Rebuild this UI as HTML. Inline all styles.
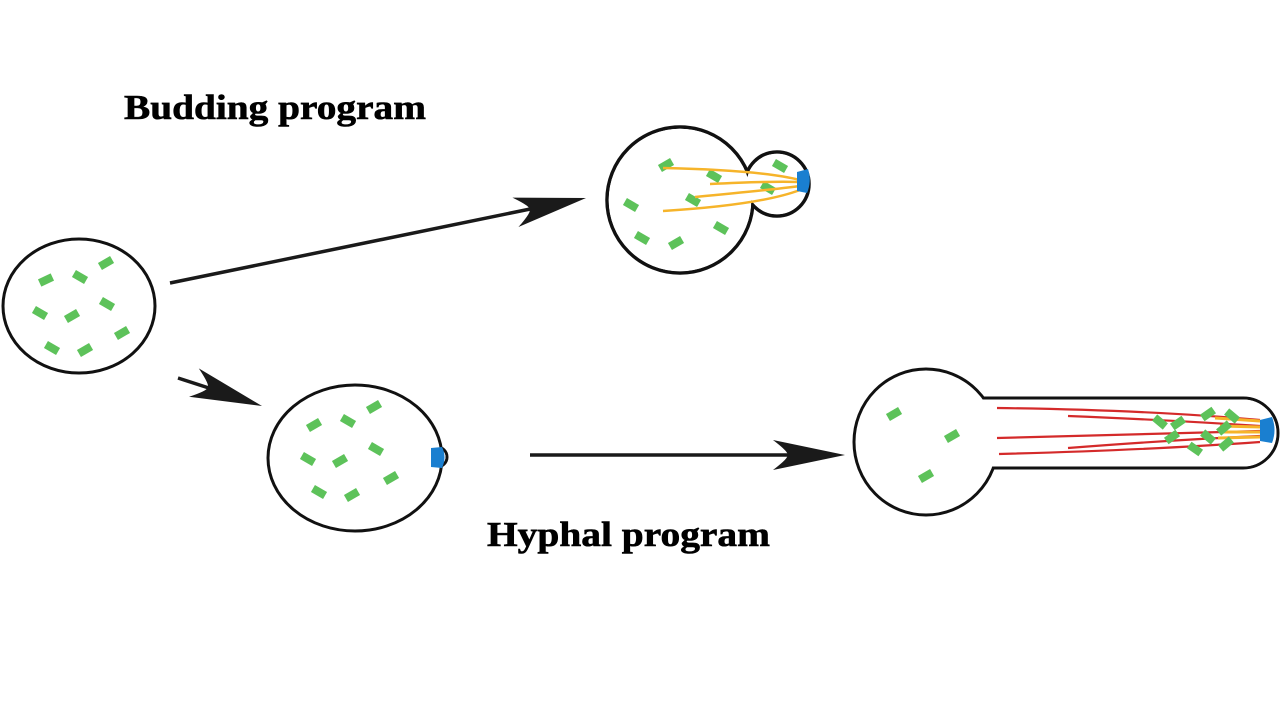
<!DOCTYPE html>
<html><head><meta charset="utf-8"><style>
html,body{margin:0;padding:0;background:#fff;}
svg{display:block}
</style></head><body>
<svg width="1280" height="705" viewBox="0 0 1280 705" xmlns="http://www.w3.org/2000/svg">
<defs>
<path id="ah" d="M0,0 L-72,-15 Q-55,-2 -58,0 Q-55,2 -72,15 Z" fill="#1a1a1a"/>
<rect id="g" x="-7" y="-4" width="14" height="8" fill="#5dc25a"/>
</defs>
<rect width="1280" height="705" fill="#fff"/>

<text x="124" y="119" font-family="Liberation Serif, serif" font-weight="bold" font-size="35" textLength="302" lengthAdjust="spacingAndGlyphs" stroke="#000" stroke-width="0.6">Budding program</text>
<text x="487" y="546" font-family="Liberation Serif, serif" font-weight="bold" font-size="35" textLength="283" lengthAdjust="spacingAndGlyphs" stroke="#000" stroke-width="0.6">Hyphal program</text>

<!-- arrows -->
<line x1="170" y1="283" x2="540" y2="207" stroke="#1a1a1a" stroke-width="3.5"/>
<use href="#ah" transform="translate(586,198) rotate(-11.5)"/>
<line x1="178" y1="378" x2="215" y2="390" stroke="#1a1a1a" stroke-width="3.5"/>
<use href="#ah" transform="translate(262,406) rotate(19)"/>
<line x1="530" y1="455" x2="800" y2="455" stroke="#1a1a1a" stroke-width="3.5"/>
<use href="#ah" transform="translate(845,455)"/>

<!-- left cell -->
<ellipse cx="79" cy="306" rx="76" ry="67" fill="#fff" stroke="#111" stroke-width="3"/>
<use href="#g" transform="translate(46,280) rotate(-25)"/>
<use href="#g" transform="translate(80,277) rotate(30)"/>
<use href="#g" transform="translate(106,263) rotate(-30)"/>
<use href="#g" transform="translate(40,313) rotate(30)"/>
<use href="#g" transform="translate(72,316) rotate(-30)"/>
<use href="#g" transform="translate(107,304) rotate(30)"/>
<use href="#g" transform="translate(52,348) rotate(30)"/>
<use href="#g" transform="translate(85,350) rotate(-30)"/>
<use href="#g" transform="translate(122,333) rotate(-30)"/>

<!-- middle cell -->
<circle cx="437" cy="457" r="10" fill="#fff" stroke="#111" stroke-width="3"/>
<ellipse cx="355" cy="458" rx="87" ry="73" fill="#fff" stroke="#111" stroke-width="3"/>
<circle cx="437" cy="457" r="8.5" fill="#fff"/>
<path d="M431,448 L442,447 Q447,457 442,468 L431,467 Z" fill="#1a7fd0"/>
<use href="#g" transform="translate(314,425) rotate(-30)"/>
<use href="#g" transform="translate(348,421) rotate(30)"/>
<use href="#g" transform="translate(374,407) rotate(-30)"/>
<use href="#g" transform="translate(308,459) rotate(30)"/>
<use href="#g" transform="translate(340,461) rotate(-30)"/>
<use href="#g" transform="translate(376,449) rotate(30)"/>
<use href="#g" transform="translate(319,492) rotate(30)"/>
<use href="#g" transform="translate(352,495) rotate(-30)"/>
<use href="#g" transform="translate(391,478) rotate(-30)"/>

<!-- budding cell -->
<circle cx="680" cy="200" r="73" fill="#fff" stroke="#111" stroke-width="3.5"/>
<circle cx="777" cy="184" r="32" fill="#fff" stroke="#111" stroke-width="3.5"/>
<circle cx="680" cy="200" r="71.3" fill="#fff"/>
<circle cx="777" cy="184" r="30.3" fill="#fff"/>
<use href="#g" transform="translate(666,165) rotate(-30)"/>
<use href="#g" transform="translate(714,176) rotate(30)"/>
<use href="#g" transform="translate(780,166) rotate(30)"/>
<use href="#g" transform="translate(631,205) rotate(30)"/>
<use href="#g" transform="translate(693,200) rotate(30)"/>
<use href="#g" transform="translate(768,188) rotate(30)"/>
<use href="#g" transform="translate(642,238) rotate(30)"/>
<use href="#g" transform="translate(676,243) rotate(-30)"/>
<use href="#g" transform="translate(721,228) rotate(30)"/>
<g stroke="#f6b42a" stroke-width="2.5" fill="none">
<path d="M663,168 Q760,170 800,180"/>
<path d="M710,184 Q770,181 800,182"/>
<path d="M695,197 Q770,190 800,186"/>
<path d="M663,211 Q760,205 800,190"/>
</g>
<path d="M797,172 L808,169 Q812,181 807,193 L797,191 Z" fill="#1a7fd0"/>

<!-- hyphal cell -->
<path d="M960,398 L1243,398 A35,35 0 0 1 1243,468 L960,468 Z" fill="#fff" stroke="#111" stroke-width="3"/>
<ellipse cx="926" cy="442" rx="72" ry="73" fill="#fff" stroke="#111" stroke-width="3"/>
<path d="M955,399.5 L1243,399.5 A33.5,33.5 0 0 1 1243,466.5 L955,466.5 Z" fill="#fff"/>
<use href="#g" transform="translate(894,414) rotate(-30)"/>
<use href="#g" transform="translate(952,436) rotate(-30)"/>
<use href="#g" transform="translate(926,476) rotate(-30)"/>
<g stroke="#d42a2a" stroke-width="2.2" fill="none">
<path d="M997,408 Q1150,410 1260,420"/>
<path d="M1068,416 Q1170,420 1260,426"/>
<path d="M997,438 Q1150,434 1260,431"/>
<path d="M1068,448 Q1170,440 1260,436"/>
<path d="M999,454 Q1150,450 1260,442"/>
</g>
<g stroke="#f6b42a" stroke-width="3" fill="none">
<path d="M1215,418 L1260,421"/>
<path d="M1220,426 L1260,427"/>
<path d="M1222,432 L1260,432"/>
<path d="M1218,438 L1260,437"/>
</g>
<use href="#g" transform="translate(1160,422) rotate(40)"/>
<use href="#g" transform="translate(1178,423) rotate(-35)"/>
<use href="#g" transform="translate(1172,437) rotate(-35)"/>
<use href="#g" transform="translate(1208,414) rotate(-35)"/>
<use href="#g" transform="translate(1232,416) rotate(40)"/>
<use href="#g" transform="translate(1224,428) rotate(-40)"/>
<use href="#g" transform="translate(1208,437) rotate(40)"/>
<use href="#g" transform="translate(1195,449) rotate(35)"/>
<use href="#g" transform="translate(1226,444) rotate(-40)"/>
<path d="M1260,420 L1272,417 Q1277,430 1272,443 L1260,441 Z" fill="#1a7fd0"/>
</svg>
</body></html>
